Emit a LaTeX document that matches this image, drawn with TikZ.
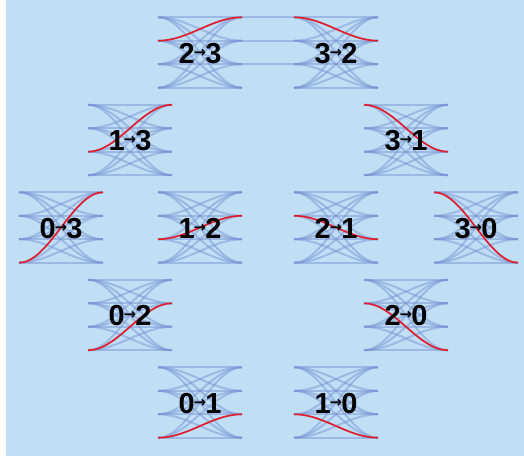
\documentclass[tikz,border=0pt]{standalone}
\usepackage{fontspec}
\setmainfont{Liberation Sans}
\newfontfamily\arrowfont{DejaVu Sans}

\definecolor{bgblue}{RGB}{192,223,245}
\definecolor{levelblue}{RGB}{122,148,212}
\definecolor{hopred}{RGB}{232,28,40}

\tikzset{
    levelcurve/.style={levelblue, opacity=0.5, line width=2pt},
    hopcurve/.style={hopred, line width=1.6pt},
    hoplabel/.style={font=\fontsize{29}{29}\selectfont\bfseries, inner sep=0pt}
}

% small arrow between the two level numbers
\newcommand{\hoparrow}{\hspace{-1pt}\raisebox{0.22em}{\arrowfont\fontsize{15}{15}\selectfont\bfseries →}\hspace{-1pt}}

% one cell: centre x, centre y, from level, to level
\newcommand{\transcell}[4]{%
    \foreach \i in {0,...,3} {
        \foreach \j in {0,...,3} {
            \draw[levelcurve] (#1-42,#2+35.25-23.5*\i) .. controls (#1-12,#2+35.25-23.5*\i) and (#1+12,#2+35.25-23.5*\j) .. (#1+42,#2+35.25-23.5*\j);
        }
    }
    \draw[hopcurve] (#1-42,#2+35.25-23.5*#3) .. controls (#1-12,#2+35.25-23.5*#3) and (#1+12,#2+35.25-23.5*#4) .. (#1+42,#2+35.25-23.5*#4);
    \node[hoplabel] (t#3#4) at (#1,#2+1) {#3\hoparrow#4};
}

\begin{document}
\begin{tikzpicture}[x=1pt,y=-1pt]
    % Background
    \useasboundingbox (0,0) rectangle (524,456);
    \fill[bgblue] (6,0) rectangle (524,456);

    % Top row, joined by the flat levels
    \foreach \l in {3,2,1} {
        \draw[levelcurve] (242,87.75-23.5*\l) -- (294,87.75-23.5*\l);
    }
    \transcell{200}{52.5}{2}{3}
    \transcell{336}{52.5}{3}{2}

    % Second row
    \transcell{130}{140}{1}{3}
    \transcell{406}{140}{3}{1}

    % Middle row
    \transcell{61}{227.5}{0}{3}
    \transcell{200}{227.5}{1}{2}
    \transcell{336}{227.5}{2}{1}
    \transcell{476}{227.5}{3}{0}

    % Fourth row
    \transcell{130}{315}{0}{2}
    \transcell{406}{315}{2}{0}

    % Bottom row
    \transcell{200}{402.5}{0}{1}
    \transcell{336}{402.5}{1}{0}
\end{tikzpicture}
\end{document}
